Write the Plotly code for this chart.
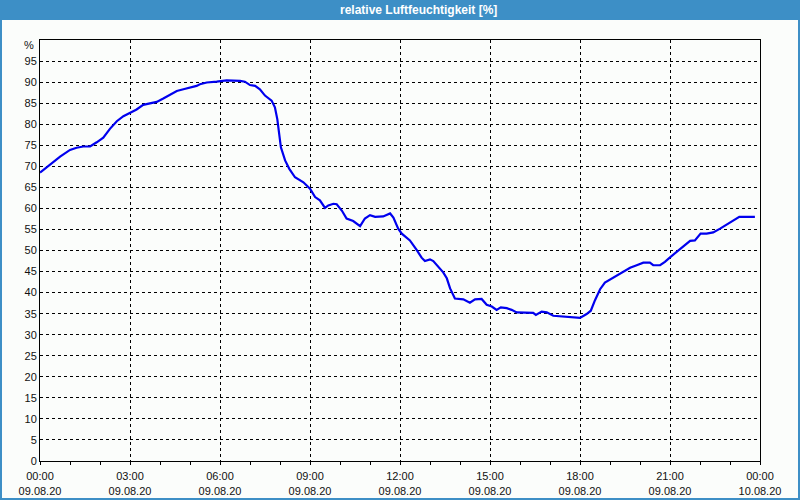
import plotly.graph_objects as go
from datetime import datetime, timedelta

# Data: hours after 09.08.20 00:00 and relative humidity [%]
hours = [0.00, 0.33, 0.67, 1.00, 1.22, 1.44, 1.67, 1.89, 2.11, 2.33, 2.56, 2.78,
         3.01, 3.22, 3.44, 3.67, 3.89, 4.11, 4.33, 4.56, 4.78, 5.00, 5.22, 5.33,
         5.56, 5.89, 6.22, 6.67, 6.83, 7.00, 7.17, 7.33, 7.50, 7.72, 7.83, 7.91,
         7.96, 8.03, 8.17, 8.31, 8.50, 8.78, 9.00, 9.17, 9.33, 9.50, 9.61, 9.78,
         9.89, 10.06, 10.22, 10.44, 10.67, 10.83, 11.00, 11.17, 11.44, 11.67, 11.78,
         11.94, 12.06, 12.33, 12.56, 12.72, 12.83, 13.00, 13.11, 13.28, 13.44,
         13.56, 13.67, 13.83, 14.11, 14.33, 14.50, 14.72, 14.89, 15.06, 15.22,
         15.36, 15.56, 15.72, 15.89, 16.44, 16.53, 16.72, 16.89, 17.11, 17.44,
         17.78, 18.00, 18.22, 18.36, 18.50, 18.67, 18.83, 19.06, 19.28, 19.44,
         19.67, 19.89, 20.11, 20.33, 20.44, 20.67, 20.83, 21.02, 21.22, 21.44,
         21.67, 21.83, 22.02, 22.22, 22.44, 22.67, 22.89, 23.11, 23.31, 23.83]
humidity = [68.5, 70.4, 72.3, 73.9, 74.4, 74.7, 74.7, 75.7, 76.8, 78.9, 80.7, 81.9,
            82.8, 83.5, 84.6, 85.0, 85.3, 86.1, 86.9, 87.9, 88.3, 88.7, 89.1, 89.5,
            89.9, 90.1, 90.4, 90.3, 90.1, 89.3, 89.1, 88.3, 86.8, 85.6, 84.0, 81.2,
            78.1, 74.5, 71.4, 69.4, 67.4, 66.2, 64.7, 62.7, 61.9, 60.1, 60.7, 61.1,
            61.0, 59.5, 57.6, 57.0, 55.8, 57.6, 58.4, 58.0, 58.1, 58.8, 57.8,
            55.2, 54.0, 52.4, 50.1, 48.3, 47.5, 47.9, 47.5, 46.1, 44.8,
            43.4, 41.0, 38.6, 38.4, 37.6, 38.4, 38.5, 37.1, 36.7, 35.9,
            36.5, 36.3, 35.9, 35.3, 35.2, 34.7, 35.5, 35.3, 34.5, 34.3,
            34.0, 34.0, 34.9, 35.7, 38.2, 40.8, 42.4, 43.4, 44.3, 44.9,
            45.9, 46.5, 47.1, 47.1, 46.5, 46.5, 47.3, 48.5, 49.7, 51.0,
            52.3, 52.4, 54.0, 54.0, 54.3, 55.2, 56.2, 57.2, 58.0, 58.0]

tick_hours = [0, 3, 6, 9, 12, 15, 18, 21, 24]
tick_labels = ["00:00<br>09.08.20", "03:00<br>09.08.20", "06:00<br>09.08.20",
               "09:00<br>09.08.20", "12:00<br>09.08.20", "15:00<br>09.08.20",
               "18:00<br>09.08.20", "21:00<br>09.08.20", "00:00<br>10.08.20"]
y_ticks = list(range(0, 100, 5))

start = datetime(2020, 8, 9)
x_times = [start + timedelta(hours=h) for h in hours]
tick_times = [start + timedelta(hours=h) for h in tick_hours]

fig = go.Figure()
fig.add_trace(go.Scatter(x=x_times, y=humidity, mode="lines",
                         line=dict(color="#0000ee", width=2.2), hoverinfo="skip"))

W, H = 800, 500
L, R, T, B = 40, 40, 40, 39
pw, ph = W - L - R, H - T - B
def px(x): return (x - L) / pw
def py(y): return (H - B - y) / ph

grid = dict(showgrid=True, gridcolor="#000000", gridwidth=1, griddash="3px,3px")
font = dict(family="Liberation Sans, Arial, sans-serif", size=11, color="#111111")

fig.update_layout(
    width=W, height=H,
    margin=dict(l=L, r=R, t=T, b=B, autoexpand=False),
    paper_bgcolor="#fbfdfb", plot_bgcolor="#fbfdfb",
    showlegend=False,
    font=font,
    xaxis=dict(range=[start, start + timedelta(hours=24)], tickvals=tick_times,
               ticktext=tick_labels, ticks="outside", ticklen=3, tickcolor="#000",
               showline=True, linecolor="#000", linewidth=1, mirror=True,
               zeroline=False, tickfont=font, fixedrange=True, ticklabelstandoff=2,
               automargin=False,
               minor=dict(dtick=3600000, ticks="outside", ticklen=3, tickcolor="#000", showgrid=False),
               **grid),
    yaxis=dict(range=[0, 100], tickvals=y_ticks, ticks="", showline=True,
               linecolor="#000", linewidth=1, mirror=True, zeroline=False, automargin=False,
               tickfont=font, fixedrange=True, **grid),
    shapes=[
        dict(type="rect", xref="paper", yref="paper", x0=px(0), x1=px(W), y0=py(20), y1=py(0),
             fillcolor="#3d8fc6", line=dict(width=0), layer="above"),
        dict(type="rect", xref="paper", yref="paper", x0=px(1), x1=px(W - 1), y0=py(H - 1), y1=py(1),
             fillcolor="rgba(0,0,0,0)", line=dict(color="#3d8fc6", width=2), layer="above"),
    ],
    annotations=[
        dict(text="<b>relative Luftfeuchtigkeit [%]</b>", xref="paper", yref="paper",
             x=px(418), y=py(10), xanchor="center", yanchor="middle", showarrow=False,
             font=dict(family="Liberation Sans, Arial, sans-serif", size=12, color="#ffffff")),
        dict(text="%", xref="paper", yref="paper", x=px(36), y=py(45), xanchor="right",
             yanchor="middle", showarrow=False, font=font),
    ],
)

fig.write_html("out.html")
